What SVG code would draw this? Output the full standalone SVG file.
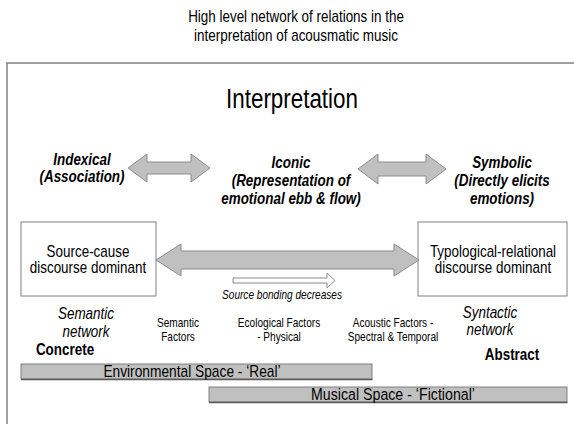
<svg xmlns="http://www.w3.org/2000/svg" width="574" height="427" viewBox="0 0 574 427">
<style>
text{font-family:"Liberation Sans",Arial,sans-serif;fill:#000;text-anchor:middle}
.t16{font-size:16px}
.bi{font-size:16px;font-weight:bold;font-style:italic}
.it{font-size:16px;font-style:italic}
.s12{font-size:12px}
.b{font-size:16px;font-weight:bold}
.arrow{fill:#c0c0c0;stroke:#8c8c8c;stroke-width:1}
.box{fill:#fff;stroke:#808080;stroke-width:1}
.bar{fill:#c0c0c0;stroke:#808080;stroke-width:1}
</style>
<rect width="574" height="427" fill="#fff"/>
<g id="title">
<g transform="translate(296,0) scale(0.84,1)">
<text class="t16" x="0" y="22">High level network of relations in the</text>
<text class="t16" x="0" y="41">interpretation of acousmatic music</text>
</g>
</g>
<path id="frame" d="M7,424 V63 H574" fill="none" stroke="#808080" stroke-width="1.5"/>
<g id="interpretation">
<g transform="translate(292,0) scale(0.8,1)"><text x="0" y="108" style="font-size:28px">Interpretation</text></g>
</g>
<g id="indexical">
<g transform="translate(82,0) scale(0.84,1)">
<text class="bi" x="0" y="165">Indexical</text>
<text class="bi" x="0" y="182">(Association)</text>
</g>
</g>
<g id="iconic">
<g transform="translate(291,0) scale(0.84,1)">
<text class="bi" x="0" y="168">Iconic</text>
<text class="bi" x="0" y="186">(Representation of</text>
<text class="bi" x="0" y="204">emotional ebb &amp; flow)</text>
</g>
</g>
<g id="symbolic">
<g transform="translate(502,0) scale(0.84,1)">
<text class="bi" x="0" y="168">Symbolic</text>
<text class="bi" x="0" y="186">(Directly elicits</text>
<text class="bi" x="0" y="204">emotions)</text>
</g>
</g>
<g id="source-cause">
<rect class="box" x="21" y="222" width="135" height="74"/>
<g transform="translate(88,0) scale(0.84,1)">
<text class="t16" x="0" y="257">Source-cause</text>
<text class="t16" x="0" y="273">discourse dominant</text>
</g>
</g>
<g id="typological">
<rect class="box" x="418" y="222" width="149" height="74"/>
<g transform="translate(493,0) scale(0.84,1)">
<text class="t16" x="0" y="257">Typological-relational</text>
<text class="t16" x="0" y="273">discourse dominant</text>
</g>
</g>
<g id="connectors">
<polygon class="arrow" points="128,168 147,154 147,162 191,162 191,154 210,168 191,182 191,174 147,174 147,182"/>
<polygon class="arrow" points="358,169 378,154 378,162 426,162 426,154 446,169 426,184 426,176 378,176 378,184"/>
<polygon class="arrow" points="156,260 181,244 181,251 394,251 394,244 419,260 394,276 394,269 181,269 181,276"/>
<polygon points="233,278 327,278 327,273 335,280.5 327,288 327,283 233,283" fill="#fff" stroke="#8c8c8c" stroke-width="1"/>
</g>
<g id="source-bonding">
<g transform="translate(282,0) scale(0.84,1)"><text class="s12" style="font-style:italic" x="0" y="299">Source bonding decreases</text></g>
</g>
<g id="semantic-network">
<g transform="translate(86,0) scale(0.84,1)">
<text class="it" x="0" y="319">Semantic</text>
<text class="it" x="0" y="337">network</text>
</g>
<g transform="translate(65,0) scale(0.84,1)"><text class="b" x="0" y="355">Concrete</text></g>
</g>
<g id="semantic-factors">
<g transform="translate(178,0) scale(0.84,1)">
<text class="s12" x="0" y="327">Semantic</text>
<text class="s12" x="0" y="341">Factors</text>
</g>
</g>
<g id="ecological-factors">
<g transform="translate(279,0) scale(0.84,1)">
<text class="s12" x="0" y="327">Ecological Factors</text>
<text class="s12" x="0" y="341">- Physical</text>
</g>
</g>
<g id="acoustic-factors">
<g transform="translate(393,0) scale(0.84,1)">
<text class="s12" x="0" y="327">Acoustic Factors -</text>
<text class="s12" x="0" y="341">Spectral &amp; Temporal</text>
</g>
</g>
<g id="syntactic-network">
<g transform="translate(490,0) scale(0.84,1)">
<text class="it" x="0" y="318">Syntactic</text>
<text class="it" x="0" y="335">network</text>
</g>
<g transform="translate(512,0) scale(0.84,1)"><text class="b" x="0" y="360">Abstract</text></g>
</g>
<g id="environmental-space">
<rect class="bar" x="21" y="364" width="351" height="15"/>
<line x1="21" y1="379.5" x2="372.5" y2="379.5" stroke="#5a5a5a" stroke-width="1.5"/>
<g transform="translate(192,0) scale(0.86,1)"><text class="t16" x="0" y="377">Environmental Space - ‘Real’</text></g>
</g>
<g id="musical-space">
<rect class="bar" x="209" y="387" width="358" height="15"/>
<line x1="209" y1="402.5" x2="567.5" y2="402.5" stroke="#5a5a5a" stroke-width="1.5"/>
<g transform="translate(393,0) scale(0.86,1)"><text x="0" y="400" style="font-size:16.5px">Musical Space - ‘Fictional’</text></g>
</g>
</svg>
